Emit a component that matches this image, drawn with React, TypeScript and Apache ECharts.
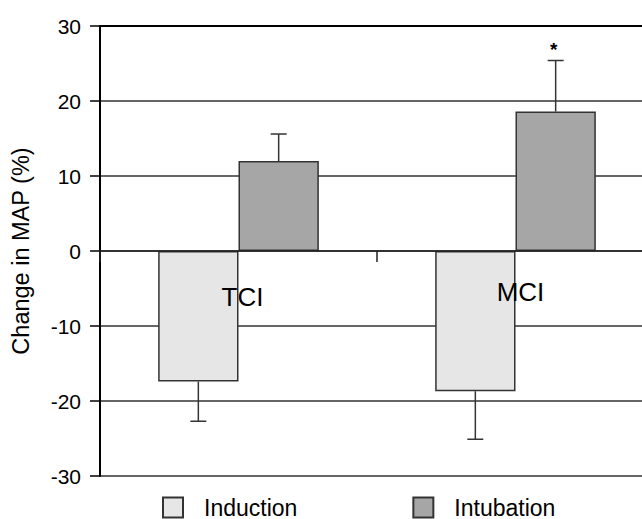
import React, { useEffect, useRef } from "react";
import * as echarts from "echarts";

const categories = ["TCI", "MCI"];
const seriesNames = ["Induction", "Intubation"];
const induction = [-17.4, -18.7];
const intubation = [12.0, 18.6];
const inductionSD = [5.3, 6.4];
const intubationSD = [3.6, 6.8];
const significance = ["", "*"];
const yMin = -30;
const yMax = 30;
const yInterval = 10;

const FONT = "Liberation Sans, Arial, sans-serif";
const BAR_GAP = 0.42;

function errorSeries(name: string, means: number[], sds: number[], side: number, marks: string[]) {
  return {
    type: "custom",
    name: name + " SD",
    z: 3,
    data: means.map((m, i) => [i, m, sds[i]]),
    encode: { x: 0, y: 1 },
    renderItem: (params: any, api: any) => {
      const idx = api.value(0);
      const mean = api.value(1);
      const sd = api.value(2);
      const dir = mean < 0 ? -1 : 1;
      const end = mean + dir * sd;
      const base = api.coord([idx, mean]);
      const tip = api.coord([idx, end]);
      const band = api.size([1, 0])[0];
      const x = base[0] + (side * band * (1 - BAR_GAP)) / 4;
      const style = { stroke: "#333", lineWidth: 1.5 };
      const children: any[] = [
        { type: "line", shape: { x1: x, y1: base[1], x2: x, y2: tip[1] }, style },
        { type: "line", shape: { x1: x - 8, y1: tip[1], x2: x + 8, y2: tip[1] }, style },
      ];
      const mark = marks[params.dataIndex];
      if (mark) {
        children.push({
          type: "text",
          x: x - 2,
          y: tip[1] - 2,
          style: {
            text: mark,
            fill: "#000",
            font: "bold 19px " + FONT,
            textAlign: "center",
            textVerticalAlign: "bottom",
          },
        });
      }
      return { type: "group", children };
    },
  };
}

// category names drawn inside the plot just below the zero line
const categoryLabelSeries = {
  type: "custom",
  name: "category labels",
  z: 6,
  data: categories.map((c, i) => [i, 0]),
  encode: { x: 0, y: 1 },
  renderItem: (params: any, api: any) => {
    const idx = api.value(0);
    const p = api.coord([idx, 0]);
    const dy = params.dataIndex === 0 ? 46 : 41;
    const dx = params.dataIndex === 0 ? 4 : 5;
    return {
      type: "text",
      x: p[0] + dx,
      y: p[1] + dy,
      style: {
        text: categories[params.dataIndex],
        fill: "#000",
        font: "26px " + FONT,
        textAlign: "center",
        textVerticalAlign: "middle",
      },
    };
  },
};

export default function App() {
  const ref = useRef<HTMLDivElement>(null);
  useEffect(() => {
    document.body.style.margin = "0";
    if (!ref.current) return;
    const chart = echarts.init(ref.current, null, { renderer: "svg" });
    chart.setOption({
      animation: false,
      backgroundColor: "#fff",
      textStyle: { fontFamily: FONT },
      grid: {
        left: 100,
        top: 26,
        width: 554,
        height: 450,
        containLabel: false,
        outerBoundsMode: "none",
      },
      legend: {
        data: seriesNames,
        left: 157,
        top: 491,
        icon: "rect",
        itemWidth: 20,
        itemHeight: 20,
        itemGap: 115,
        textStyle: { fontSize: 23, color: "#000", fontFamily: FONT, padding: [0, 0, 0, 16] },
      },
      xAxis: [
        {
          type: "category",
          data: categories,
          position: "bottom",
          z: 10,
          axisLine: { onZero: true, onZeroAxisIndex: 0, lineStyle: { color: "#222", width: 1.5 } },
          axisTick: { show: true, length: 11, interval: 0, lineStyle: { color: "#222", width: 1.5 } },
          axisLabel: { show: false },
          splitLine: { show: false },
        },
        {
          type: "category",
          data: categories,
          position: "top",
          axisLine: { show: true, onZero: false, lineStyle: { color: "#000", width: 2 } },
          axisTick: { show: false },
          axisLabel: { show: false },
          splitLine: { show: false },
        },
      ],
      yAxis: {
        type: "value",
        min: yMin,
        max: yMax,
        interval: yInterval,
        name: "Change in MAP (%)",
        nameLocation: "middle",
        nameGap: 67,
        nameTextStyle: { fontSize: 23.5, color: "#000", fontFamily: FONT },
        axisLine: { show: true, lineStyle: { color: "#000", width: 2 } },
        axisTick: { show: true, length: 10, lineStyle: { color: "#000", width: 1.5 } },
        axisLabel: { fontSize: 21, color: "#000", margin: 19, fontFamily: FONT },
        splitLine: { show: true, lineStyle: { color: "#333", width: 1.5 } },
      },
      series: [
        {
          name: seriesNames[0],
          type: "bar",
          data: induction,
          barGap: "0%",
          barCategoryGap: BAR_GAP * 100 + "%",
          itemStyle: { color: "#e6e6e6", borderColor: "#333", borderWidth: 1.5 },
        },
        {
          name: seriesNames[1],
          type: "bar",
          data: intubation,
          barGap: "0%",
          barCategoryGap: BAR_GAP * 100 + "%",
          itemStyle: { color: "#a6a6a6", borderColor: "#333", borderWidth: 1.5 },
        },
        errorSeries(seriesNames[0], induction, inductionSD, -1, categories.map(() => "")),
        errorSeries(seriesNames[1], intubation, intubationSD, 1, significance),
        categoryLabelSeries,
      ],
    });
    return () => chart.dispose();
  }, []);
  return <div ref={ref} style={{ width: 642, height: 519 }} />;
}
